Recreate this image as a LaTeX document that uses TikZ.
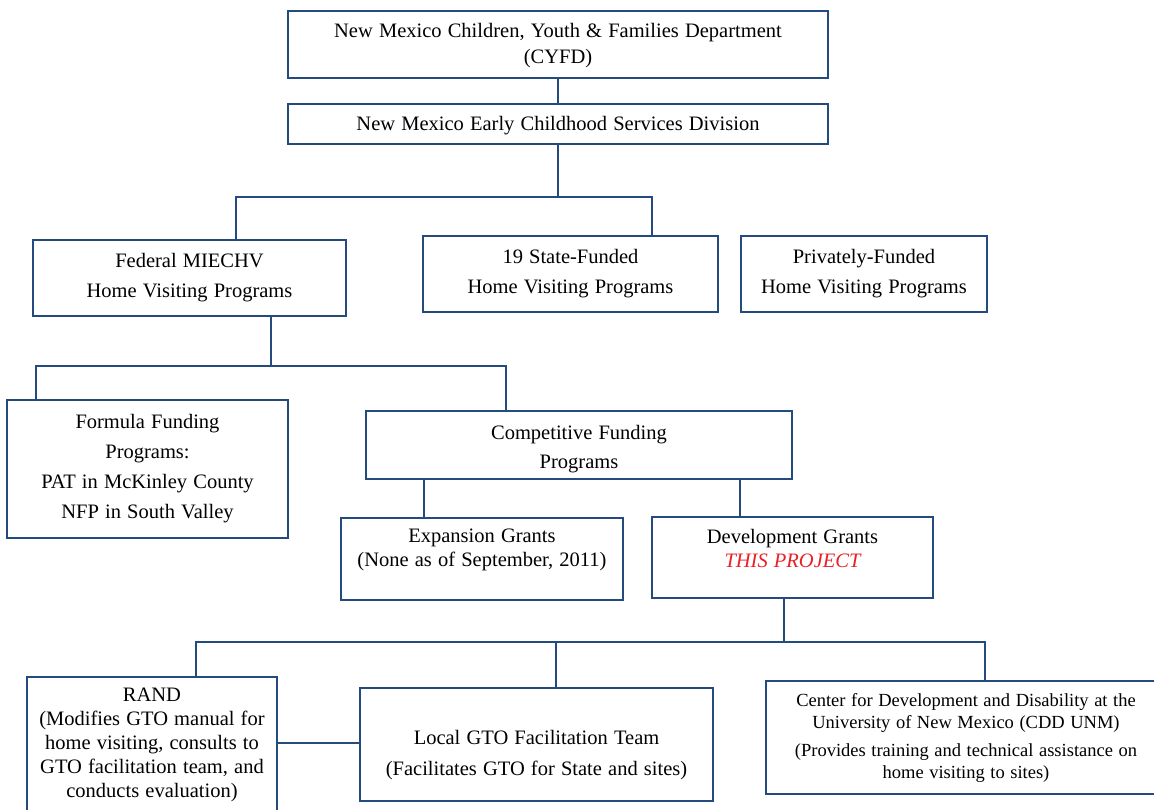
\documentclass[tikz,border=0pt]{standalone}
\usepackage{fontspec}
\setmainfont[WordSpace=1.2]{Liberation Serif}
\usetikzlibrary{calc}
\definecolor{frame}{RGB}{35,75,125}
\definecolor{accent}{RGB}{232,32,40}
\tikzset{
  box/.style={draw=frame, line width=2.5pt, fill=white, inner sep=0pt},
  link/.style={draw=frame, line width=2.5pt},
  txt/.style={align=center, inner sep=0pt, text=black},
}
\newcommand{\fs}[2]{\fontsize{#1}{#2}\selectfont}
\begin{document}
\begin{tikzpicture}[x=1pt,y=-1pt]
\useasboundingbox (0,0) rectangle (1154,810);
\clip (0,0) rectangle (1154,810);

% boxes
\node[box, minimum width=540, minimum height=67]  (cyfd)  at (558,44.5) {};
\node[box, minimum width=540, minimum height=40]  (ecsd)  at (558,124) {};
\node[box, minimum width=313, minimum height=76]  (fed)   at (189.5,278) {};
\node[box, minimum width=295, minimum height=76]  (state) at (570.5,274) {};
\node[box, minimum width=246, minimum height=76]  (priv)  at (864,274) {};
\node[box, minimum width=281, minimum height=138] (form)  at (147.5,469) {};
\node[box, minimum width=426, minimum height=68]  (comp)  at (579,445) {};
\node[box, minimum width=282, minimum height=82]  (exp)   at (482,559) {};
\node[box, minimum width=281, minimum height=81]  (dev)   at (792.5,557.5) {};
\node[box, minimum width=250, minimum height=153] (rand)  at (152,753.5) {};
\node[box, minimum width=353, minimum height=113] (local) at (536.5,744.5) {};
\node[box, minimum width=404, minimum height=113] (cdd)   at (968,737.5) {};

% labels
\node[txt, font=\fs{20.5}{26}] (tcyfd) at (558,46) {New Mexico Children, Youth \& Families Department\\(CYFD)};
\node[txt, font=\fs{20.5}{26}] (tecsd) at (558,126) {New Mexico Early Childhood Services Division};
\node[txt, font=\fs{20.5}{30}] (tfed) at (189.5,278) {Federal MIECHV\\Home Visiting Programs};
\node[txt, font=\fs{20.5}{30}] (tstate) at (570.5,274) {19 State-Funded\\Home Visiting Programs};
\node[txt, font=\fs{20.5}{30}] (tpriv) at (864,274) {Privately-Funded\\Home Visiting Programs};
\node[txt, font=\fs{20.5}{30}] (tform) at (147.5,469) {Formula Funding\\Programs:\\PAT in McKinley County\\NFP in South Valley};
\node[txt, font=\fs{20.5}{29}] (tcomp) at (579,449.5) {Competitive Funding\\Programs};
\node[txt, font=\fs{20.5}{24}] (texp) at (482,550) {Expansion Grants\\(None as of September, 2011)};
\node[txt, font=\fs{20.5}{24}] (tdev) at (792.5,548) {Development Grants\\\textcolor{accent}{\itshape THIS PROJECT}};
\node[txt, font=\fs{20.5}{24}] (trand) at (152,744.5) {RAND\\(Modifies GTO manual for\\home visiting, consults to\\GTO facilitation team, and\\conducts evaluation)};
\node[txt, font=\fs{20.5}{31}] (tlocal) at (536.5,755.5) {Local GTO Facilitation Team\\(Facilitates GTO for State and sites)};
\node[txt, font=\fs{18.5}{22}] (tcdd) at (966,738) {Center for Development and Disability at the\\University of New Mexico (CDD UNM)\\[6pt](Provides training and technical assistance on\\home visiting to sites)};

% junction points of the connector lines
\coordinate (b1) at (236,197);
\coordinate (b2) at (652,197);
\coordinate (c0) at (271,366);
\coordinate (c1) at (36,366);
\coordinate (c2) at (506,366);
\coordinate (d1) at (424,500);
\coordinate (d2) at (740,500);
\coordinate (e0) at (784,642);
\coordinate (e1) at (196,642);
\coordinate (e2) at (556,642);
\coordinate (e3) at (985,642);
\coordinate (f)  at (320,743);

% connectors
\draw[link] (cyfd.south) -- (ecsd.north);
\draw[link] (ecsd.south) -- (ecsd.south |- b1);
\draw[link] (fed.north -| b1) -- (b1) -- (b2) -- (state.north -| b2);
\draw[link] (fed.south -| c0) -- (c0);
\draw[link] (form.north -| c1) -- (c1) -- (c2) -- (comp.north -| c2);
\draw[link] (comp.south -| d1) -- (exp.north -| d1);
\draw[link] (comp.south -| d2) -- (dev.north -| d2);
\draw[link] (dev.south -| e0) -- (e0);
\draw[link] (rand.north -| e1) -- (e1) -- (e3) -- (cdd.north -| e3);
\draw[link] (e2) -- (local.north -| e2);
\draw[link] (rand.east |- f) -- (local.west |- f);
\end{tikzpicture}
\end{document}
